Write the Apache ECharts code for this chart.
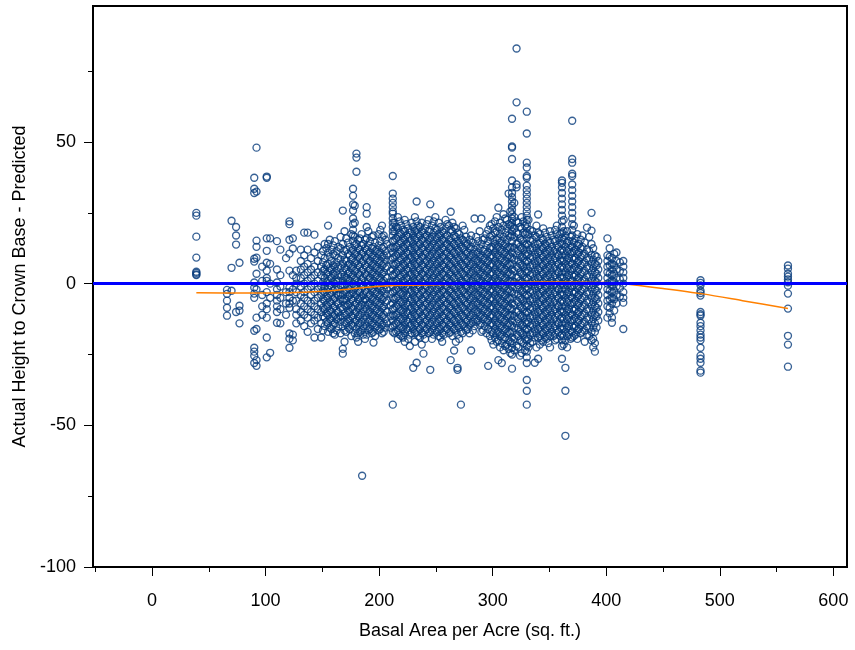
<!DOCTYPE html>
<html>
<head>
<meta charset="utf-8">
<script src="https://cdn.jsdelivr.net/npm/echarts@6/dist/echarts.min.js"></script>
<style>html,body{margin:0;padding:0;background:#fff;}#c{width:855px;height:650px;}</style>
</head>
<body>
<div id="c"></div>
<script>
// ---- Data ----
// Sparse stands on the left
const leftX = [39, 66, 70, 74, 77, 90, 92, 97, 101, 104, 110, 113, 118, 121, 124, 127];
const leftY = [
  [25, 24, 16.6, 9.2, 4.2, 3.8, 3.3, 3],
  [-2.2, -3.6, -6, -8.5, -11.3],
  [22.2, 5.6, -2.5],
  [20, 17, 13.8, -10],
  [7.4, -7.8, -9.5, -14],
  [37.4, 33.5, 32, 8.8, 7.8, 0.4, -1.4, -3.5, -5, -16.6, -22.6, -24, -25.5, -28],
  [48, 32.5, 15.2, 13, 9.2, 3.5, -2, -12, -16, -27, -29],
  [6, 1, -4, -8, -11],
  [37.8, 37.4, 16, 11.6, 7.4, 4.6, 2, 1, -3, -7, -9, -12, -19, -26],
  [16, 7, 0, -5, -24.4],
  [15, 5, 0.4, -2, -4, -6, -8, -10, -13.8],
  [12, 3, -1, -5, -9, -14],
  [9, -3, -7, -11],
  [22, 21, 15.5, 10.6, 4.6, -1.4, -3, -5, -7, -8.5, -17.6, -19.4, -22.6],
  [16, 12.4, 3, -2, -6, -18, -20],
  [4.6, 2, 0, -3, -6, -9, -11, -14]
];
// Dense middle stands (first layer)
const coreX = [131, 134, 137, 140, 143, 146, 149, 152, 155, 158, 161, 164, 168, 171, 174, 177, 180, 183, 186, 189,
  192, 195, 198, 201, 204, 207, 212, 215, 218, 221, 224, 227, 230, 233, 236, 239, 242, 245, 248, 251,
  254, 257, 260, 263, 266, 269, 272, 275, 278, 281, 284, 287, 290, 293, 296, 299, 302, 305, 308, 311,
  314, 317, 321, 324, 327, 330, 333, 337, 340, 343, 346, 349, 352, 355, 358, 361, 364, 367, 370, 373,
  376, 379, 383, 387, 390, 393];
const coreY = [
  [12, 8, 5, 2, -1, -4, -7, -10, -13],
  [18, 10, 6, 3, 0, -3, -5, -8, -11, -15],
  [18, 12, 7, 4, 1, -2, -6, -9, -12, -17],
  [9, 5, 2, -1, -4, -7, -10, -14],
  [17.3, 11, 6, 3, 0, -3, -6, -8, -11, -13, -19],
  [13, 8, 4, 1, -2, -5, -9, -12, -16],
  [10, 6, 3, -1, -4, -7, -10, -14, -19],
  [14, 9, 5, 2, -1, -3, -6, -9, -12, -15],
  [20.5, 14, 11, 7, 4, 1, -2, -5, -8, -11, -14, -17],
  [12, 8, 5, 2, -1, -4, -7, -10, -13, -16],
  [15, 10, 6, 3, 0, -2, -5, -8, -11, -14, -18],
  [13, 9, 6, 3, 1, -2, -4, -7, -10, -12, -15],
  [25.8, 14, 10, 7, 4, 1, -1, -4, -6, -9, -12, -15, -23, -24.7],
  [16, 12, 8, 5, 2, 0, -3, -6, -8, -11, -14, -17],
  [13, 10, 7, 4, 1, -2, -4, -7, -10, -13, -16],
  [33.5, 31, 28, 25.8, 23, 21, 19, 17, 15, 12, 9, 6, 3, 0, -3, -6, -9, -12, -15],
  [45.9, 44.5, 39.5, 14, 11, 8, 5, 2, -1, -4, -7, -10, -13, -16, -19],
  [16, 12, 9, 6, 3, 0, -3, -5, -8, -11, -14, -17],
  [14, 11, 8, 5, 2, -1, -4, -6, -9, -12, -15, -18],
  [27, 24.7, 20, 16, 12, 9, 6, 3, 0, -3, -6, -9, -12, -15, -18],
  [15, 11, 8, 5, 2, -1, -4, -7, -10, -13, -16],
  [17, 13, 10, 7, 4, 1, -2, -5, -8, -11, -14, -17, -20.8],
  [12, 9, 6, 3, 0, -3, -6, -9, -12, -15],
  [19, 15, 11, 8, 5, 2, -1, -4, -7, -10, -13, -16],
  [17, 13, 10, 7, 4, 1, -2, -5, -8, -11, -14, -17],
  [14, 10, 6, 2, -2, -6, -10, -14],
  [38, 31.8, 30, 28.5, 27, 25.5, 24.7, 23, 21.5, 20, 18.5, 17, 15, 13, 11, 9, 7, 5, 3, 1, -1, -3, -5, -7, -9, -11, -13, -15, -17, -42.7],
  [20, 16, 13, 10, 7, 4, 1, -2, -5, -8, -11, -14, -17],
  [22, 18, 15, 12, 9, 6, 3, 0, -3, -6, -9, -12, -15, -18],
  [19, 16, 13, 10, 7, 4, 1, -1, -4, -7, -10, -13, -16, -19],
  [21, 17, 14, 11, 8, 5, 2, -1, -4, -7, -10, -13, -16],
  [18, 15, 12, 9, 6, 3, 0, -3, -6, -9, -12, -15, -18, -22],
  [20, 17, 14, 11, 8, 5, 2, -1, -4, -7, -10, -13, -16, -29.7],
  [29, 22, 19, 16, 13, 10, 7, 4, 1, -2, -5, -8, -11, -14, -17, -27.9],
  [20, 17, 14, 11, 8, 5, 2, -1, -4, -7, -10, -13, -16, -19],
  [18, 15, 12, 9, 6, 3, 0, -3, -6, -9, -12, -15, -18, -24.7],
  [21, 17, 14, 11, 8, 5, 2, -1, -4, -7, -10, -13, -16],
  [28, 19, 16, 13, 10, 7, 4, 1, -2, -5, -8, -11, -14, -17, -30.4],
  [22, 18, 15, 12, 9, 6, 3, 0, -3, -6, -9, -12, -15, -18],
  [19, 16, 13, 10, 7, 4, 1, -2, -5, -8, -11, -14, -17],
  [20, 17, 14, 11, 8, 5, 2, -1, -4, -7, -10, -13, -16, -19],
  [18, 15, 12, 9, 6, 3, 0, -3, -6, -9, -12, -15, -18],
  [21, 17, 14, 11, 8, 5, 2, -1, -4, -7, -10, -13, -16],
  [25.4, 19, 16, 13, 10, 7, 4, 1, -2, -5, -8, -11, -14, -17, -27],
  [20, 17, 14, 11, 8, 5, 2, -1, -4, -7, -10, -13, -16, -23.6],
  [18, 15, 12, 9, 6, 3, 0, -3, -6, -9, -12, -15, -18, -29.7, -30.4],
  [16, 13, 10, 7, 4, 1, -2, -5, -8, -11, -14, -17, -42.7],
  [19, 15, 12, 9, 6, 3, 0, -3, -6, -9, -12, -15],
  [14, 11, 8, 5, 2, -1, -4, -7, -10, -13, -16],
  [17, 13, 10, 7, 4, 1, -2, -5, -8, -11, -14, -23.6],
  [23, 12, 9, 6, 3, 0, -3, -6, -9, -12, -15],
  [15, 11, 8, 5, 2, -1, -4, -7, -10, -13],
  [23, 14, 10, 7, 4, 1, -2, -5, -8, -11, -14, -17],
  [16, 12, 9, 6, 3, 0, -3, -6, -9, -12, -15],
  [19, 15, 11, 8, 5, 2, -1, -4, -7, -10, -13, -16, -29],
  [21, 17, 13, 10, 7, 4, 1, -2, -5, -8, -11, -14, -17, -20],
  [22, 18, 14, 11, 8, 5, 2, -1, -4, -7, -10, -13, -16, -19],
  [26.8, 20, 16, 13, 10, 7, 4, 1, -2, -5, -8, -11, -14, -17, -20, -27],
  [19, 15, 12, 9, 6, 3, 0, -3, -6, -9, -12, -15, -18, -21, -28],
  [23, 18, 14, 11, 8, 5, 2, -1, -4, -7, -10, -13, -16, -19, -22],
  [31.8, 21, 17, 13, 10, 7, 4, 1, -2, -5, -8, -11, -14, -17, -20, -23],
  [58.2, 48.4, 48, 44, 36.4, 34, 32, 30.5, 29, 27.5, 26, 24.5, 23, 21.5, 20, 18.5, 17, 15, 13, 11, 9, 7, 5, 3, 1, -1, -3, -5, -7, -9, -11, -13, -15, -17, -19, -21, -22.6, -25, -30],
  [83, 64, 35, 34, 22, 18, 14, 10, 6, 2, -2, -6, -10, -14, -18, -22],
  [20, 16, 13, 10, 7, 4, 1, -2, -5, -8, -11, -14, -17, -20, -25.4],
  [22, 18, 15, 12, 9, 6, 3, 0, -3, -6, -9, -12, -15, -18, -21],
  [60.7, 53, 42.7, 41, 38, 37.4, 34.6, 33, 31.5, 30, 28.5, 27, 25.5, 24, 22.5, 21, 19.5, 18, 16, 14, 12, 10, 8, 6, 4, 2, 0, -2, -4, -6, -8, -10, -12, -14, -16, -18, -20, -22, -24, -26, -28, -34, -37.8, -42.7],
  [19, 15, 12, 9, 6, 3, 0, -3, -6, -9, -12, -15, -18, -21],
  [17, 14, 11, 8, 5, 2, -1, -4, -7, -10, -13, -16, -19, -27.9],
  [24.4, 18, 14, 11, 8, 5, 2, -1, -4, -7, -10, -13, -16, -19, -26.5],
  [16, 13, 10, 7, 4, 1, -2, -5, -8, -11, -14, -17, -20],
  [18, 14, 11, 8, 5, 2, -1, -4, -7, -10, -13, -16, -19],
  [15, 12, 9, 6, 3, 0, -3, -6, -9, -12, -15, -18, -21],
  [17, 13, 10, 7, 4, 1, -2, -5, -8, -11, -14, -17],
  [19, 15, 12, 9, 6, 3, 0, -3, -6, -9, -12, -15, -18, -20],
  [16, 13, 10, 7, 4, 1, -2, -5, -8, -11, -14, -17],
  [36.4, 35.6, 34, 32, 30, 28, 26, 24, 22, 20, 18, 16, 14, 12, 10, 8, 6, 4, 2, 0, -2, -4, -6, -8, -10, -12, -14, -16, -18, -20, -22, -26.5],
  [17, 13, 10, 7, 4, 1, -2, -5, -8, -11, -14, -17, -20, -29.7, -37.8, -53.7],
  [15, 12, 9, 6, 3, 0, -3, -6, -9, -12, -15, -18],
  [57.5, 44, 42.7, 38.8, 38, 35, 33, 31, 29, 27, 25, 23, 21, 19, 17, 15, 13, 11, 9, 7, 5, 3, 1, -1, -3, -5, -7, -9, -11, -13, -15, -17, -19],
  [16, 12, 9, 6, 3, 0, -3, -6, -9, -12, -15, -18],
  [14, 11, 8, 5, 2, -1, -4, -7, -10, -13, -16],
  [17, 13, 10, 7, 4, 1, -2, -5, -8, -11, -14, -17],
  [19.8, 12, 9, 6, 3, 0, -3, -6, -9, -12, -15, -18],
  [25, 18.7, 14, 10, 7, 4, 1, -2, -5, -8, -11, -14, -17, -20],
  [10, 7, 4, 1, -2, -5, -8, -11, -14, -17, -21, -24],
  [8, 5, 2, -1, -4, -7, -10, -13]
];
// Dense middle stands (second, interleaved layer)
const core2X = [150.5, 153.5, 156.5, 159.5, 162.5, 166, 169.5, 172.5, 175.5, 178.5, 181.5, 184.5, 187.5, 190.5,
  193.5, 196.5, 199.5, 202.5, 205.5, 210, 213.5, 216.5, 219.5, 222.5, 225.5, 228.5, 231.5, 234.5, 237.5, 240.5,
  243.5, 246.5, 249.5, 252.5, 255.5, 258.5, 261.5, 264.5, 267.5, 270.5, 273.5, 276.5, 279.5, 282.5, 285.5, 288.5,
  291.5, 294.5, 297.5, 300.5, 303.5, 306.5, 309.5, 312.5, 315.5, 319, 322.5, 325.5, 328.5, 331.5, 335, 338.5,
  341.5, 344.5, 347.5, 350.5, 353.5, 356.5, 359.5, 362.5, 365.5, 368.5, 371.5, 374.5, 377.5, 381, 385, 388.5, 391.5];
const core2Y = [
  [11.5, 7.5, 4.5, 0.5, -2.5, -5.5, -8.5, -11.5, -16.5],
  [12.5, 6.5, 3.5, 0.5, -4.5, -7.5, -10.5, -13.5],
  [15.5, 9.5, 5.5, 2.5, -0.5, -3.5, -6.5, -9.5, -12.5, -15.5],
  [13.5, 10.5, 6.5, 3.5, 0.5, -2.5, -5.5, -8.5, -11.5, -14.5, -17.5],
  [11.5, 7.5, 4.5, 1.5, -3.5, -6.5, -9.5, -12.5, -16.5],
  [16.5, 12.5, 8.5, 5.5, 2.5, -0.5, -3.5, -5.5, -8.5, -11.5, -13.5, -17.5],
  [18.5, 11.5, 8.5, 5.5, 2.5, -0.5, -2.5, -5.5, -7.5, -10.5, -13.5, -16.5, -20.5],
  [14.5, 10.5, 6.5, 3.5, 1.5, -1.5, -4.5, -7.5, -9.5, -12.5, -15.5],
  [17.5, 11.5, 8.5, 5.5, 2.5, -0.5, -3.5, -5.5, -8.5, -11.5, -14.5, -18.5],
  [27.5, 21.5, 16.5, 13.5, 10.5, 7.5, 4.5, 1.5, -1.5, -4.5, -7.5, -10.5, -13.5, -17.5],
  [15.5, 12.5, 9.5, 6.5, 3.5, 0.5, -2.5, -5.5, -8.5, -11.5, -14.5, -17.5, -20.5],
  [17.5, 13.5, 10.5, 7.5, 4.5, 1.5, -1.5, -4.5, -7.5, -10.5, -13.5, -16.5],
  [15.5, 12.5, 9.5, 6.5, 3.5, 0.5, -2.5, -5.5, -7.5, -10.5, -13.5, -16.5, -19.5],
  [18.5, 13.5, 10.5, 7.5, 4.5, 1.5, -1.5, -4.5, -7.5, -10.5, -13.5, -16.5],
  [16.5, 12.5, 9.5, 6.5, 3.5, 0.5, -2.5, -5.5, -8.5, -11.5, -14.5, -17.5],
  [14.5, 11.5, 8.5, 5.5, 2.5, -0.5, -3.5, -6.5, -9.5, -12.5, -15.5, -18.5],
  [17.5, 13.5, 10.5, 7.5, 4.5, 1.5, -1.5, -4.5, -7.5, -10.5, -13.5, -16.5],
  [20.5, 16.5, 12.5, 9.5, 6.5, 3.5, 0.5, -2.5, -5.5, -8.5, -11.5, -14.5, -17.5],
  [15.5, 11.5, 8.5, 5.5, 2.5, -0.5, -3.5, -6.5, -9.5, -12.5, -15.5],
  [12.5, 8.5, 4.5, 0.5, -3.5, -7.5, -11.5, -15.5],
  [21.5, 18.5, 15.5, 12.5, 9.5, 6.5, 3.5, 0.5, -2.5, -5.5, -8.5, -11.5, -14.5, -17.5],
  [23.5, 19.5, 16.5, 13.5, 10.5, 7.5, 4.5, 1.5, -1.5, -4.5, -7.5, -10.5, -13.5, -16.5, -19.5],
  [20.5, 17.5, 14.5, 11.5, 8.5, 5.5, 2.5, -0.5, -3.5, -6.5, -9.5, -12.5, -15.5, -18.5],
  [22.5, 18.5, 15.5, 12.5, 9.5, 6.5, 3.5, 0.5, -2.5, -5.5, -8.5, -11.5, -14.5, -17.5, -20.5],
  [19.5, 16.5, 13.5, 10.5, 7.5, 4.5, 1.5, -1.5, -4.5, -7.5, -10.5, -13.5, -16.5, -19.5],
  [21.5, 18.5, 15.5, 12.5, 9.5, 6.5, 3.5, 0.5, -2.5, -5.5, -8.5, -11.5, -14.5, -17.5],
  [23.5, 18.5, 15.5, 12.5, 9.5, 6.5, 3.5, 0.5, -2.5, -5.5, -8.5, -11.5, -14.5, -17.5, -20.5],
  [20.5, 17.5, 14.5, 11.5, 8.5, 5.5, 2.5, -0.5, -3.5, -6.5, -9.5, -12.5, -15.5, -18.5],
  [21.5, 18.5, 15.5, 12.5, 9.5, 6.5, 3.5, 0.5, -2.5, -5.5, -8.5, -11.5, -14.5, -17.5, -21.5],
  [19.5, 16.5, 13.5, 10.5, 7.5, 4.5, 1.5, -1.5, -4.5, -7.5, -10.5, -13.5, -16.5, -19.5],
  [22.5, 18.5, 15.5, 12.5, 9.5, 6.5, 3.5, 0.5, -2.5, -5.5, -8.5, -11.5, -14.5, -17.5],
  [20.5, 16.5, 13.5, 10.5, 7.5, 4.5, 1.5, -1.5, -4.5, -7.5, -10.5, -13.5, -16.5, -19.5],
  [23.5, 19.5, 16.5, 13.5, 10.5, 7.5, 4.5, 1.5, -1.5, -4.5, -7.5, -10.5, -13.5, -16.5],
  [21.5, 17.5, 14.5, 11.5, 8.5, 5.5, 2.5, -0.5, -3.5, -6.5, -9.5, -12.5, -15.5, -18.5],
  [18.5, 15.5, 12.5, 9.5, 6.5, 3.5, 0.5, -2.5, -5.5, -8.5, -11.5, -14.5, -17.5, -20.5],
  [22.5, 19.5, 16.5, 13.5, 10.5, 7.5, 4.5, 1.5, -1.5, -4.5, -7.5, -10.5, -13.5, -16.5],
  [20.5, 15.5, 12.5, 9.5, 6.5, 3.5, 0.5, -2.5, -5.5, -8.5, -11.5, -14.5, -17.5],
  [21.5, 18.5, 14.5, 11.5, 8.5, 5.5, 2.5, -0.5, -3.5, -6.5, -9.5, -12.5, -15.5, -18.5],
  [19.5, 16.5, 13.5, 10.5, 7.5, 4.5, 1.5, -1.5, -4.5, -7.5, -10.5, -13.5, -16.5, -20.5],
  [17.5, 14.5, 11.5, 8.5, 5.5, 2.5, -0.5, -3.5, -6.5, -9.5, -12.5, -15.5, -19.5],
  [20.5, 15.5, 12.5, 9.5, 6.5, 3.5, 0.5, -2.5, -5.5, -8.5, -11.5, -14.5, -17.5],
  [16.5, 13.5, 10.5, 7.5, 4.5, 1.5, -1.5, -4.5, -7.5, -10.5, -13.5, -16.5],
  [15.5, 12.5, 9.5, 6.5, 3.5, 0.5, -2.5, -5.5, -8.5, -11.5, -14.5, -17.5],
  [14.5, 10.5, 7.5, 4.5, 1.5, -1.5, -4.5, -7.5, -10.5, -13.5, -16.5],
  [16.5, 13.5, 10.5, 7.5, 4.5, 1.5, -1.5, -4.5, -7.5, -10.5, -13.5],
  [18.5, 12.5, 9.5, 6.5, 3.5, 0.5, -2.5, -5.5, -8.5, -11.5, -14.5],
  [15.5, 11.5, 8.5, 5.5, 2.5, -0.5, -3.5, -6.5, -9.5, -12.5, -16.5],
  [17.5, 13.5, 10.5, 7.5, 4.5, 1.5, -1.5, -4.5, -7.5, -10.5, -13.5, -17.5],
  [20.5, 16.5, 12.5, 9.5, 6.5, 3.5, 0.5, -2.5, -5.5, -8.5, -11.5, -14.5, -18.5],
  [19.5, 15.5, 12.5, 9.5, 6.5, 3.5, 0.5, -2.5, -5.5, -8.5, -11.5, -14.5, -17.5, -21.5],
  [23.5, 18.5, 15.5, 12.5, 9.5, 6.5, 3.5, 0.5, -2.5, -5.5, -8.5, -11.5, -14.5, -17.5, -20.5],
  [21.5, 17.5, 14.5, 11.5, 8.5, 5.5, 2.5, -0.5, -3.5, -6.5, -9.5, -12.5, -15.5, -18.5, -22.5],
  [24.5, 20.5, 16.5, 13.5, 10.5, 7.5, 4.5, 1.5, -1.5, -4.5, -7.5, -10.5, -13.5, -16.5, -19.5, -23.5],
  [22.5, 19.5, 15.5, 12.5, 9.5, 6.5, 3.5, 0.5, -2.5, -5.5, -8.5, -11.5, -14.5, -17.5, -21.5],
  [25.5, 20.5, 16.5, 12.5, 9.5, 6.5, 3.5, 0.5, -2.5, -5.5, -8.5, -11.5, -14.5, -17.5, -20.5, -24.5],
  [28.5, 23.5, 19.5, 16.5, 12.5, 8.5, 4.5, 0.5, -3.5, -7.5, -11.5, -15.5, -19.5, -23.5],
  [21.5, 17.5, 14.5, 11.5, 8.5, 5.5, 2.5, -0.5, -3.5, -6.5, -9.5, -12.5, -15.5, -18.5, -22.5],
  [23.5, 19.5, 15.5, 12.5, 9.5, 6.5, 3.5, 0.5, -2.5, -5.5, -8.5, -11.5, -14.5, -17.5, -20.5, -24.5],
  [20.5, 17.5, 13.5, 10.5, 7.5, 4.5, 1.5, -1.5, -4.5, -7.5, -10.5, -13.5, -16.5, -19.5, -23.5],
  [22.5, 17.5, 13.5, 10.5, 7.5, 4.5, 1.5, -1.5, -4.5, -7.5, -10.5, -13.5, -16.5, -19.5, -22.5],
  [18.5, 15.5, 12.5, 9.5, 6.5, 3.5, 0.5, -2.5, -5.5, -8.5, -11.5, -14.5, -17.5, -20.5],
  [20.5, 16.5, 12.5, 9.5, 6.5, 3.5, 0.5, -2.5, -5.5, -8.5, -11.5, -14.5, -17.5, -22.5],
  [17.5, 14.5, 11.5, 8.5, 5.5, 2.5, -0.5, -3.5, -6.5, -9.5, -12.5, -15.5, -18.5, -21.5],
  [19.5, 15.5, 12.5, 9.5, 6.5, 3.5, 0.5, -2.5, -5.5, -8.5, -11.5, -14.5, -17.5, -20.5],
  [16.5, 13.5, 10.5, 7.5, 4.5, 1.5, -1.5, -4.5, -7.5, -10.5, -13.5, -16.5, -19.5],
  [18.5, 14.5, 11.5, 8.5, 5.5, 2.5, -0.5, -3.5, -6.5, -9.5, -12.5, -15.5, -18.5, -22.5],
  [15.5, 11.5, 8.5, 5.5, 2.5, -0.5, -3.5, -6.5, -9.5, -12.5, -15.5, -18.5],
  [20.5, 17.5, 13.5, 10.5, 7.5, 4.5, 1.5, -1.5, -4.5, -7.5, -10.5, -13.5, -16.5, -19.5],
  [17.5, 14.5, 11.5, 8.5, 5.5, 2.5, -0.5, -3.5, -6.5, -9.5, -12.5, -15.5, -18.5],
  [22.5, 18.5, 15.5, 11.5, 8.5, 5.5, 2.5, -0.5, -3.5, -6.5, -9.5, -12.5, -15.5, -18.5, -21.5],
  [18.5, 14.5, 11.5, 8.5, 5.5, 2.5, -0.5, -3.5, -6.5, -9.5, -12.5, -15.5, -18.5, -22.5],
  [16.5, 13.5, 10.5, 7.5, 4.5, 1.5, -1.5, -4.5, -7.5, -10.5, -13.5, -16.5, -19.5],
  [20.5, 14.5, 11.5, 8.5, 5.5, 2.5, -0.5, -3.5, -6.5, -9.5, -12.5, -15.5, -18.5],
  [17.5, 13.5, 10.5, 7.5, 4.5, 1.5, -1.5, -4.5, -7.5, -10.5, -13.5, -16.5, -19.5],
  [15.5, 12.5, 9.5, 6.5, 3.5, 0.5, -2.5, -5.5, -8.5, -11.5, -14.5, -17.5],
  [14.5, 10.5, 7.5, 4.5, 1.5, -1.5, -4.5, -7.5, -10.5, -13.5, -16.5, -20.5],
  [16.5, 11.5, 8.5, 5.5, 2.5, -0.5, -3.5, -6.5, -9.5, -12.5, -15.5, -18.5],
  [12.5, 8.5, 5.5, 2.5, -0.5, -3.5, -6.5, -9.5, -12.5, -15.5, -19.5, -22.5],
  [9.5, 6.5, 3.5, 0.5, -2.5, -5.5, -8.5, -11.5, -15.5]
];
// Sparse stands on the right
const rightX = [401, 403, 405, 407, 409, 412, 415, 483, 560];
const rightY = [
  [16, 10, 8, 6, 4, 2, 0, -2, -4, -6, -8, -12],
  [12.5, 9.5, 6.5, 3.5, 0.5, -2.5, -5.5, -8.5, -10.5],
  [9, 7, 5, 3, 1, -1, -3, -5, -7, -12, -13.8],
  [10.5, 6.5, 3.5, 0.5, -2.5, -5.5, -9.5],
  [11, 8, 5, 2, -1, -4, -7],
  [7.5, 4.5, 1.5, -1.5, -4.5],
  [8, 6, 4, 2, 0, -3, -5, -6.7, -16],
  [1.2, 0.3, -0.6, -2.5, -3.3, -4.2, -10, -10.8, -11.3, -13.8, -15, -16.5, -18, -19, -20, -22.6, -25.4, -26.5, -27.9, -30.7, -31.4],
  [6.4, 5.3, 3.5, 2.5, 1.5, 0.5, -0.7, -3.5, -8.8, -18.4, -21.5, -29.3]
];
// Isolated outlier
const outlierX = [185];
const outlierY = [[-67.8]];

// Smoothed trend line
const trendX = [39, 80, 120, 150, 175, 195, 220, 260, 290, 320, 360, 400, 415, 450, 485, 520, 560];
const trendY = [-3.2, -3.3, -3.2, -2.7, -1.9, -1.1, -0.6, -0.3, 0.2, 0.5, 0.6, 0.4, 0, -1.7, -3.6, -6.0, -8.8];

// Axis ticks
const xMajor = [0, 100, 200, 300, 400, 500, 600];
const xMinor = [-50, 50, 150, 250, 350, 450, 550];
const yMajor = [-100, -50, 0, 50];
const yMinor = [-75, -25, 25, 75];

// ---- Build ----
const points = [];
function addGroup(xs, ys) {
  xs.forEach((x, i) => ys[i].forEach(y => points.push([x, y])));
}
addGroup(leftX, leftY);
addGroup(coreX, coreY);
addGroup(core2X, core2Y);
addGroup(rightX, rightY);
addGroup(outlierX, outlierY);
const trend = trendX.map((x, i) => [x, trendY[i]]);

const FONT = 'Liberation Sans, Arial, Helvetica, sans-serif';
const X_MIN = -52, X_MAX = 612, Y_MIN = -100, Y_MAX = 98;

const chart = echarts.init(document.getElementById('c'), null, { renderer: 'canvas' });
chart.setOption({
  animation: false,
  backgroundColor: '#ffffff',
  grid: { left: 93, right: 8, top: 6, bottom: 83, show: true, borderColor: '#000', borderWidth: 2, backgroundColor: 'transparent' },
  xAxis: [
    {
      type: 'value', min: X_MIN, max: X_MAX, position: 'bottom',
      name: 'Basal Area per Acre (sq. ft.)', nameLocation: 'middle', nameGap: 55,
      nameTextStyle: { fontSize: 18, color: '#000', fontFamily: FONT },
      axisLine: { show: true, onZero: false, lineStyle: { color: '#000', width: 2 } },
      axisTick: { show: true, customValues: xMajor, length: 9, lineStyle: { color: '#000', width: 1 } },
      axisLabel: { show: true, customValues: xMajor, fontSize: 18, color: '#000', fontFamily: FONT, margin: 25 },
      splitLine: { show: false }
    },
    {
      type: 'value', min: X_MIN, max: X_MAX, position: 'bottom',
      axisLine: { show: false, onZero: false },
      axisTick: { show: true, customValues: xMinor, length: 5, lineStyle: { color: '#000', width: 1 } },
      axisLabel: { show: false },
      splitLine: { show: false }
    }
  ],
  yAxis: [
    {
      type: 'value', min: Y_MIN, max: Y_MAX, position: 'left',
      name: 'Actual Height to Crown Base - Predicted', nameLocation: 'middle', nameGap: 64,
      nameTextStyle: { fontSize: 18, color: '#000', fontFamily: FONT },
      axisLine: { show: true, onZero: false, lineStyle: { color: '#000', width: 2 } },
      axisTick: { show: true, customValues: yMajor, length: 9, lineStyle: { color: '#000', width: 1 } },
      axisLabel: { show: true, customValues: yMajor, fontSize: 18, color: '#000', fontFamily: FONT, margin: 17 },
      splitLine: { show: false }
    },
    {
      type: 'value', min: Y_MIN, max: Y_MAX, position: 'left',
      axisLine: { show: false, onZero: false },
      axisTick: { show: true, customValues: yMinor, length: 5, lineStyle: { color: '#000', width: 1 } },
      axisLabel: { show: false },
      splitLine: { show: false }
    }
  ],
  series: [
    {
      type: 'scatter', xAxisIndex: 0, yAxisIndex: 0, data: points,
      symbol: 'circle', symbolSize: 7, progressive: 0, z: 2,
      itemStyle: { color: 'rgba(0,0,0,0)', borderColor: '#053a7a', borderWidth: 1.35 },
      markLine: {
        silent: true, symbol: 'none', z: 5,
        label: { show: false },
        lineStyle: { color: '#0000ff', width: 3, type: 'solid' },
        emphasis: { disabled: true },
        data: [{ yAxis: 0 }]
      }
    },
    {
      type: 'line', xAxisIndex: 0, yAxisIndex: 0, data: trend,
      showSymbol: false, smooth: 0.3, z: 4,
      lineStyle: { color: '#ff8000', width: 1.5 }
    }
  ]
});
</script>
</body>
</html>
